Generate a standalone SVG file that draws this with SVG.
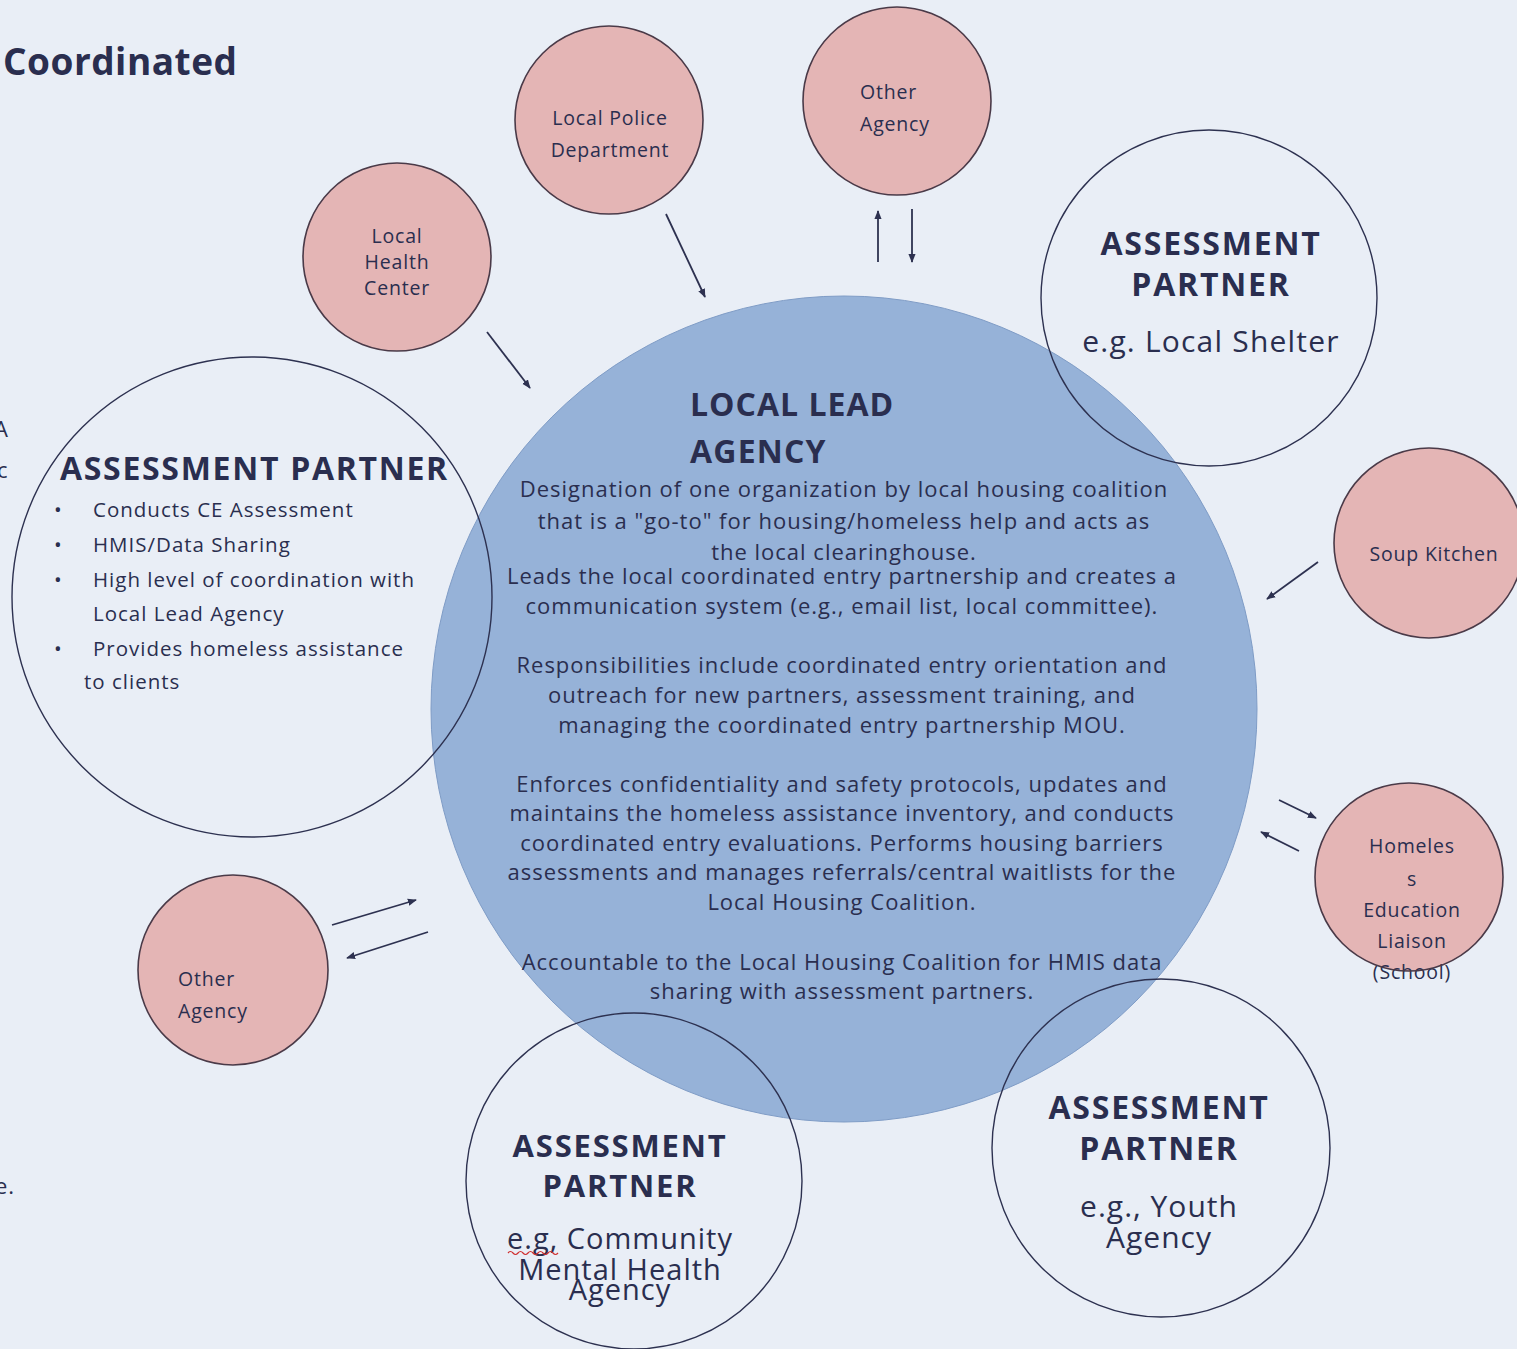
<svg xmlns="http://www.w3.org/2000/svg" width="1517" height="1349" viewBox="0 0 1517 1349">
<defs>
<style>
.t{font-family:"Open Sans","Liberation Sans",sans-serif;fill:#2a2e4f;letter-spacing:1px}
.b{font-weight:bold;letter-spacing:1.8px}
.s{letter-spacing:0.8px}
.pink{fill:#e4b5b5;stroke:#4a3a48;stroke-width:1.6}
.ring{fill:none;stroke:#2d3150;stroke-width:1.4}
.ln{stroke:#2d3150;stroke-width:1.8;fill:none;marker-end:url(#ah)}
</style>
<marker id="ah" viewBox="0 0 10 10" refX="9" refY="5" markerWidth="5" markerHeight="5" orient="auto"><path d="M0,1 L10,5 L0,9 z" fill="#2d3150"/></marker>
</defs>
<rect width="1517" height="1349" fill="#e9eef6"/>
<text class="t b" x="3" y="75" font-size="37" style="letter-spacing:0.5px">Coordinated</text>
<text class="t" x="-6" y="437" font-size="22">A</text>
<text class="t" x="-3" y="478" font-size="22">c</text>
<text class="t" x="-5" y="1194" font-size="22">e.</text>

<g id="local-lead-agency">
<circle cx="844" cy="709" r="413" fill="#96b2d8" stroke="#7f9cc6" stroke-width="1"/>
<text class="t b" x="690" y="416" font-size="32" style="letter-spacing:1px">LOCAL LEAD</text>
<text class="t b" x="690" y="463" font-size="32" style="letter-spacing:1.2px">AGENCY</text>
<g class="t" font-size="22" text-anchor="middle">
<text x="844" y="497">Designation of one organization by local housing coalition</text>
<text x="844" y="529">that is a "go-to" for housing/homeless help and acts as</text>
<text x="844" y="560">the local clearinghouse.</text>
<text x="842" y="584">Leads the local coordinated entry partnership and creates a</text>
<text x="842" y="614">communication system (e.g., email list, local committee).</text>
<text x="842" y="673">Responsibilities include coordinated entry orientation and</text>
<text x="842" y="703">outreach for new partners, assessment training, and</text>
<text x="842" y="733">managing the coordinated entry partnership MOU.</text>
<text x="842" y="792">Enforces confidentiality and safety protocols, updates and</text>
<text x="842" y="821">maintains the homeless assistance inventory, and conducts</text>
<text x="842" y="851">coordinated entry evaluations. Performs housing barriers</text>
<text x="842" y="880">assessments and manages referrals/central waitlists for the</text>
<text x="842" y="910">Local Housing Coalition.</text>
<text x="842" y="970">Accountable to the Local Housing Coalition for HMIS data</text>
<text x="842" y="999">sharing with assessment partners.</text>
</g>
</g>

<g id="assessment-partner-left">
<circle class="ring" cx="252" cy="597" r="240"/>
<text class="t b" x="60" y="480" font-size="32" style="letter-spacing:1.7px">ASSESSMENT PARTNER</text>
<g class="t" font-size="20.5">
<text x="54" y="517">•</text><text x="93" y="517">Conducts CE Assessment</text>
<text x="54" y="552">•</text><text x="93" y="552">HMIS/Data Sharing</text>
<text x="54" y="587">•</text><text x="93" y="587">High level of coordination with</text>
<text x="93" y="621">Local Lead Agency</text>
<text x="54" y="656">•</text><text x="93" y="656">Provides homeless assistance</text>
<text x="84" y="689">to clients</text>
</g>
</g>

<g id="assessment-partner-shelter">
<circle class="ring" cx="1209" cy="298" r="168"/>
<g class="t" text-anchor="middle" font-size="32">
<text class="b" x="1211" y="255">ASSESSMENT</text>
<text class="b" x="1211" y="296">PARTNER</text>
<text x="1211" y="352" font-size="30" style="letter-spacing:1.2px">e.g. Local Shelter</text>
</g>
</g>

<g id="assessment-partner-mental-health">
<circle class="ring" cx="634" cy="1181" r="168"/>
<g class="t" text-anchor="middle" font-size="29">
<text class="b" x="620" y="1157" font-size="31">ASSESSMENT</text>
<text class="b" x="620" y="1197" font-size="31">PARTNER</text>
<text x="620" y="1249">e.g, Community</text>
<text x="620" y="1280">Mental Health</text>
<text x="620" y="1300">Agency</text>
</g>
<path d="M508,1253 q2.5,-3 5,0 t5,0 t5,0 t5,0 t5,0 t5,0 t5,0 t5,0 t5,0 t5,0" fill="none" stroke="#d03030" stroke-width="1.2"/>
</g>

<g id="assessment-partner-youth">
<circle class="ring" cx="1161" cy="1148" r="169"/>
<g class="t" text-anchor="middle" font-size="30">
<text class="b" x="1159" y="1119" font-size="32">ASSESSMENT</text>
<text class="b" x="1159" y="1160" font-size="32">PARTNER</text>
<text x="1159" y="1217">e.g., Youth</text>
<text x="1159" y="1248">Agency</text>
</g>
</g>

<g id="local-health-center">
<circle class="pink" cx="397" cy="257" r="94"/>
<g class="t s" text-anchor="middle" font-size="19.5">
<text x="397" y="243">Local</text>
<text x="397" y="269">Health</text>
<text x="397" y="295">Center</text>
</g>
</g>

<g id="local-police-department">
<circle class="pink" cx="609" cy="120" r="94"/>
<g class="t s" text-anchor="middle" font-size="19.5">
<text x="610" y="125">Local Police</text>
<text x="610" y="157">Department</text>
</g>
</g>

<g id="other-agency-top">
<circle class="pink" cx="897" cy="101" r="94"/>
<g class="t s" font-size="19.5">
<text x="860" y="99">Other</text>
<text x="860" y="131">Agency</text>
</g>
</g>

<g id="soup-kitchen">
<circle class="pink" cx="1429" cy="543" r="95"/>
<text class="t s" x="1434" y="561" font-size="19.5" text-anchor="middle">Soup Kitchen</text>
</g>

<g id="homeless-education-liaison">
<circle cx="1409" cy="877" r="94" fill="#e4b5b5"/>
<g class="t s" text-anchor="middle" font-size="19.5">
<text x="1412" y="853">Homeles</text>
<text x="1412" y="886">s</text>
<text x="1412" y="917">Education</text>
<text x="1412" y="948">Liaison</text>
<text x="1412" y="979">(School)</text>
</g>
<circle cx="1409" cy="877" r="94" fill="none" stroke="#4a3a48" stroke-width="1.6"/>
</g>

<g id="other-agency-left">
<circle class="pink" cx="233" cy="970" r="95"/>
<g class="t s" font-size="19.5">
<text x="178" y="986">Other</text>
<text x="178" y="1018">Agency</text>
</g>
</g>

<g id="connectors">
<line class="ln" x1="487" y1="332" x2="530" y2="388"/>
<line class="ln" x1="666" y1="214" x2="705" y2="297"/>
<line class="ln" x1="878" y1="262" x2="878" y2="211"/>
<line class="ln" x1="912" y1="209" x2="912" y2="262"/>
<line class="ln" x1="1318" y1="562" x2="1267" y2="599"/>
<line class="ln" x1="1279" y1="800" x2="1316" y2="818"/>
<line class="ln" x1="1299" y1="851" x2="1261" y2="832"/>
<line class="ln" x1="332" y1="925" x2="416" y2="900"/>
<line class="ln" x1="428" y1="932" x2="347" y2="958"/>
</g>
</svg>
